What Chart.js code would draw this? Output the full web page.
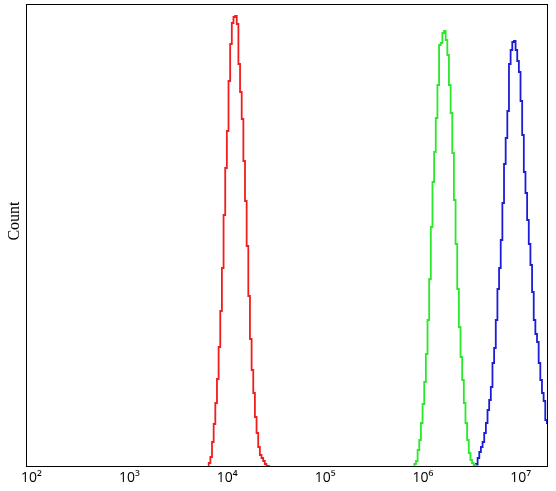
<!DOCTYPE html>
<html>
<head>
<meta charset="utf-8">
<script src="https://cdn.jsdelivr.net/npm/chart.js@4.4.1/dist/chart.umd.min.js"></script>
<style>
  html, body { margin: 0; padding: 0; background: #fff; }
  #wrap { width: 556px; height: 491px; }
</style>
</head>
<body>
<div id="wrap"><canvas id="histo" width="556" height="491"></canvas></div>
<script>
// histogram bins: log10 of the left edge of the first bin + counts per bin
const binWidth = 0.01686;
const decadeTicks = [1e2, 1e3, 1e4, 1e5, 1e6, 1e7];
const tickLabels = ['10²', '10³', '10⁴', '10⁵', '10⁶', '10⁷'];

const redStart = 3.811;
const redCounts = [0, 3, 9, 24, 42, 63, 87, 119, 155, 198, 251, 298, 335, 385, 422, 443, 449, 450,
  442, 402, 374, 347, 305, 265, 220, 170, 127, 96, 73, 49, 33, 19, 11, 8, 5, 2, 0];

const greenStart = 5.912;
const greenCounts = [0, 2, 5, 16, 26, 43, 62, 84, 112, 146, 187, 239, 284, 314, 348, 381, 421, 423, 433, 435,
  426, 411, 381, 353, 313, 266, 222, 177, 139, 109, 86, 63, 43, 26, 13, 6, 3, 1, 0];

const blueStart = 6.542;
const blueCounts = [0, 2, 8, 14, 19, 24, 33, 43, 56, 66, 79, 103, 118, 146, 177, 198, 226, 263, 302, 328, 355,
  402, 416, 424, 425, 416, 405, 394, 365, 331, 294, 273, 246, 222, 201, 174, 146, 132, 124, 103, 86, 73, 65, 46, 43];

function toSteps(start, counts) {
  const pts = counts.map((c, i) => ({ x: Math.pow(10, start + i * binWidth), y: c }));
  pts.push({ x: Math.pow(10, start + counts.length * binWidth), y: counts[counts.length - 1] });
  return pts;
}

function series(start, counts, color) {
  return {
    data: toSteps(start, counts),
    borderColor: color,
    borderWidth: 1.8,
    stepped: 'after',
    pointRadius: 0,
    tension: 0,
    fill: false
  };
}

// frame around the plot area + rotated "Count" label a bit above centre
const frame = {
  id: 'frame',
  afterDraw(chart) {
    const a = chart.chartArea, ctx = chart.ctx;
    ctx.save();
    ctx.strokeStyle = '#000';
    ctx.lineWidth = 1;
    ctx.strokeRect(Math.round(a.left) + 0.5, Math.round(a.top) + 0.5,
      Math.round(a.right - a.left) - 1, Math.round(a.bottom - a.top));
    ctx.translate(15, 221);
    ctx.rotate(-Math.PI / 2);
    ctx.fillStyle = '#000';
    ctx.font = '16px "Liberation Serif"';
    ctx.textAlign = 'center';
    ctx.textBaseline = 'middle';
    ctx.fillText('Count', 0, 0);
    ctx.restore();
  }
};

new Chart(document.getElementById('histo'), {
  type: 'line',
  data: {
    datasets: [
      series(redStart, redCounts, '#f01e1e'),
      series(greenStart, greenCounts, '#2ae82a'),
      series(blueStart, blueCounts, '#1c1cd8')
    ]
  },
  options: {
    responsive: false,
    animation: false,
    layout: { padding: { top: 4, right: 8, left: 0, bottom: 0 } },
    plugins: { legend: { display: false }, tooltip: { enabled: false } },
    scales: {
      x: {
        type: 'logarithmic',
        min: Math.pow(10, 1.944),
        max: Math.pow(10, 7.278),
        grid: { display: false, drawTicks: false },
        border: { display: false },
        afterBuildTicks: (scale) => { scale.ticks = decadeTicks.map(v => ({ value: v })); },
        afterFit: (scale) => { scale.height = 25; },
        ticks: {
          autoSkip: false,
          maxRotation: 0,
          padding: 4,
          color: '#000',
          font: { family: 'Open Sans', size: 14 },
          callback: (v) => tickLabels[decadeTicks.indexOf(v)]
        }
      },
      y: {
        min: 0,
        max: 462,
        grid: { display: false, drawTicks: false },
        border: { display: false },
        ticks: { display: false },
        afterFit: (scale) => { scale.width = 26; }
      }
    }
  },
  plugins: [frame]
});
</script>
</body>
</html>
